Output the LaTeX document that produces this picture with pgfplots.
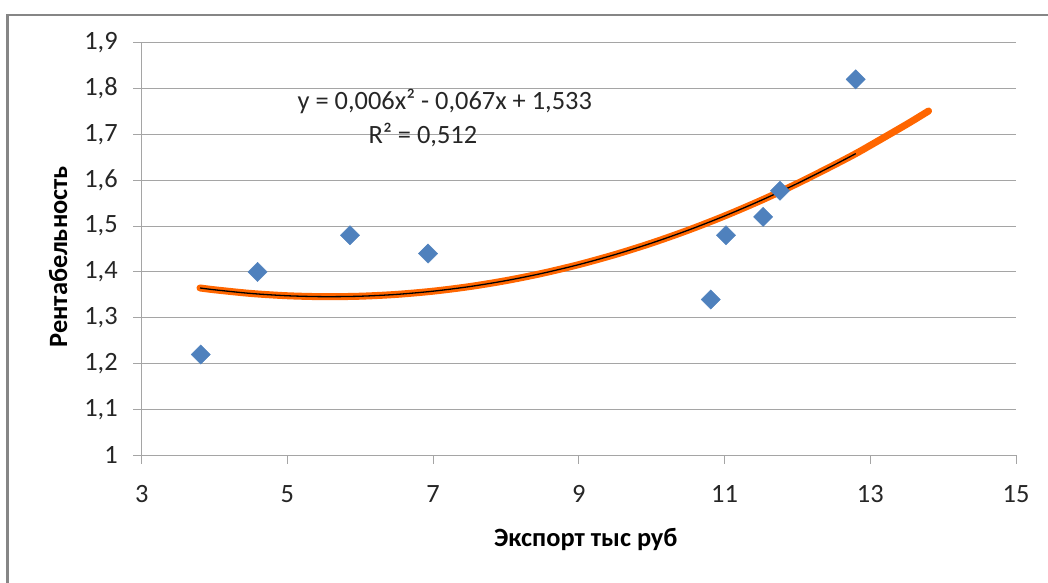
\documentclass[border=0pt]{standalone}
\usepackage{pgfplots}
\pgfplotsset{compat=1.18}
\usepackage{fontspec}
\setmainfont{Carlito}
\definecolor{ptblue}{RGB}{79,129,189}
\definecolor{trendor}{RGB}{255,102,0}
\definecolor{gridgr}{RGB}{165,165,165}
\definecolor{framegr}{RGB}{134,134,134}
\newcommand\chartfont{\fontsize{26.5}{31}\selectfont}

\begin{document}
\begin{tikzpicture}[x=1bp,y=1bp]
\path[use as bounding box] (-141.7,-127.7) rectangle (906.3,455.3);
\draw[framegr, line width=2.5bp] (-134,-160) -- (-134,440.3) -- (940,440.3);
\begin{axis}[
    scale only axis,
    width=874.3bp, height=412.6bp,
    xmin=3, xmax=15, ymin=1, ymax=1.9,
    xtick={3,5,7,9,11,13,15},
    ytick={1,1.1,1.2,1.3,1.4,1.5,1.6,1.7,1.8,1.9},
    axis x line*=bottom, axis y line*=left,
    axis line style={gridgr, line width=1bp},
    ymajorgrids,
    grid style={gridgr, line width=1bp},
    tick align=outside,
    major tick length=8.5bp,
    tick style={gridgr, line width=1bp},
    tick label style={font=\chartfont, text=black!85},
    yticklabel style={xshift=-12bp},
    xticklabel style={yshift=-18bp},
    /pgf/number format/assume math mode=true,
    /pgf/number format/.cd, use comma, fixed, precision=1, /pgfplots/.cd,
    xlabel={Экспорт тыс руб},
    ylabel={Рентабельность},
    label style={font=\chartfont\bfseries, text=black},
    xlabel style={at={(axis description cs:0.508,-0.205)}, anchor=center},
    ylabel style={at={(axis description cs:-0.0957,0.481)}, anchor=center},
    clip=false,
]
% trend line with forecast (orange)
\addplot[trendor, line width=7bp, line cap=round, smooth] coordinates {
    (3.8,1.365) (4,1.361) (4.5,1.353) (5,1.348) (5.5,1.346) (6,1.347)
    (6.5,1.351) (7,1.358) (7.5,1.368) (8,1.381) (8.5,1.397) (9,1.416)
    (9.5,1.438) (10,1.463) (10.5,1.491) (11,1.522) (11.5,1.556) (12,1.593)
    (12.5,1.633) (12.8,1.658) (13,1.676) (13.5,1.722) (13.8,1.751)};
% trend line without forecast (black)
\addplot[black, line width=1.3bp, smooth] coordinates {
    (3.8,1.365) (4,1.361) (4.5,1.353) (5,1.348) (5.5,1.346) (6,1.347)
    (6.5,1.351) (7,1.358) (7.5,1.368) (8,1.381) (8.5,1.397) (9,1.416)
    (9.5,1.438) (10,1.463) (10.5,1.491) (11,1.522) (11.5,1.556) (12,1.593)
    (12.5,1.633) (12.8,1.658)};
% data
\addplot[only marks, mark=square*, mark size=6.8bp,
    mark options={rotate=45, fill=ptblue, draw=ptblue}] coordinates {
    (3.81,1.22) (4.59,1.40) (5.86,1.48) (6.93,1.44) (10.81,1.34)
    (11.02,1.48) (11.53,1.52) (11.76,1.577) (12.80,1.82)};
\node[font=\chartfont, text=black!85] at (axis cs:7.16,1.771) {y = 0,006x² - 0,067x + 1,533};
\node[font=\chartfont, text=black!85] at (axis cs:6.86,1.699) {R² = 0,512};
\end{axis}
\end{tikzpicture}
\end{document}
